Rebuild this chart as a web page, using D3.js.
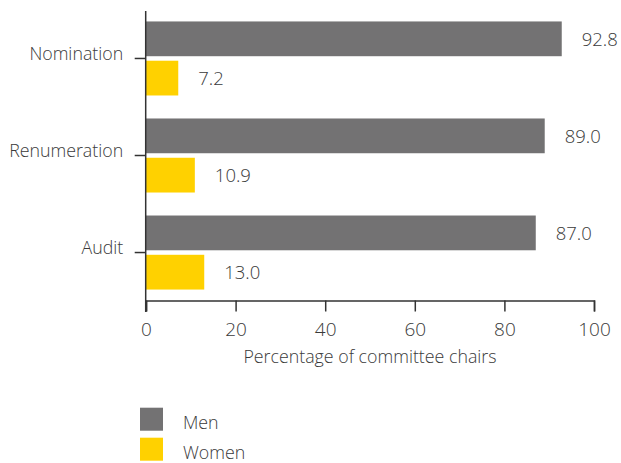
<!DOCTYPE html>
<html>
<head>
<meta charset="utf-8">
<script src="https://cdn.jsdelivr.net/npm/d3@7"></script>
<style>
  html, body { margin: 0; padding: 0; background: #fff; }
  svg text { font-family: "Open Sans", sans-serif; font-weight: 300; fill: #3a3a3a; }
</style>
</head>
<body>
<svg id="chart" width="621" height="463"></svg>
<script>
// Committee chair share by gender
const categories = ["Nomination", "Renumeration", "Audit"];
const seriesNames = ["Men", "Women"];
const menValues = [92.8, 89.0, 87.0];
const womenValues = [7.2, 10.9, 13.0];
const xTicks = [0, 20, 40, 60, 80, 100];
const xTitle = "Percentage of committee chairs";

const colors = { Men: "#737273", Women: "#ffd100" };
const axisColor = "#333333";
const textColor = "#3a3a3a";

const rows = categories.map((c, i) => ({ category: c, Men: menValues[i], Women: womenValues[i] }));

const svg = d3.select("#chart");

const x = d3.scaleLinear().domain([0, 100]).range([146, 594]);
const y = d3.scaleBand().domain(categories).range([10, 301])
  .paddingInner(0.237).paddingOuter(0.118);
const ySub = d3.scaleBand().domain(seriesNames).range([0, y.bandwidth()]).paddingInner(0.115);

// Bars
const groups = svg.append("g").selectAll("g")
  .data(rows).join("g")
  .attr("transform", d => `translate(0,${y(d.category)})`);

groups.selectAll("rect")
  .data(d => seriesNames.map(s => ({ key: s, value: d[s] })))
  .join("rect")
  .attr("x", x(0))
  .attr("y", d => ySub(d.key))
  .attr("width", d => x(d.value) - x(0))
  .attr("height", ySub.bandwidth())
  .attr("fill", d => colors[d.key]);

// Value labels
groups.selectAll("text.val")
  .data(d => seriesNames.map(s => ({ key: s, value: d[s] })))
  .join("text")
  .attr("class", "val")
  .attr("x", d => x(d.value) + 20)
  .attr("y", d => ySub(d.key) + ySub.bandwidth() / 2)
  .attr("dy", "0.38em")
  .style("font-size", "18.5px")
  .text(d => d.value.toFixed(1));

// X axis
const xAxis = svg.append("g")
  .attr("transform", `translate(0,${300.5})`)
  .call(d3.axisBottom(x).tickValues(xTicks).tickSize(11).tickPadding(11.5).tickFormat(d3.format("d")));
xAxis.select(".domain").attr("stroke", axisColor).attr("stroke-width", 1.5);
xAxis.selectAll(".tick line").attr("stroke", axisColor).attr("stroke-width", 1.5);
xAxis.selectAll("text").style("font-size", "19px").attr("fill", textColor);

// Y axis
const yAxis = svg.append("g")
  .attr("transform", `translate(${145.7},0)`)
  .call(d3.axisLeft(y).tickSize(11).tickPadding(11.5).tickSizeOuter(0));
yAxis.select(".domain").attr("stroke", axisColor).attr("stroke-width", 1.5)
  .attr("d", `M0,11V312`);
yAxis.selectAll(".tick line").attr("stroke", axisColor).attr("stroke-width", 1.5);
yAxis.selectAll(".tick text").style("font-size", "17.8px").attr("fill", textColor).attr("dy", "0.08em");

// Axis title
svg.append("text")
  .attr("x", (x(0) + x(100)) / 2)
  .attr("y", 363)
  .attr("text-anchor", "middle")
  .style("font-size", "17.8px")
  .text(xTitle);

// Legend
const legend = svg.append("g").selectAll("g")
  .data(seriesNames).join("g")
  .attr("transform", (d, i) => `translate(140,${407.7 + i * 30})`);
legend.append("rect")
  .attr("width", 23).attr("height", 23)
  .attr("fill", d => colors[d]);
legend.append("text")
  .attr("x", 43).attr("y", 21)
  .style("font-size", "17.8px")
  .text(d => d);
</script>
</body>
</html>
